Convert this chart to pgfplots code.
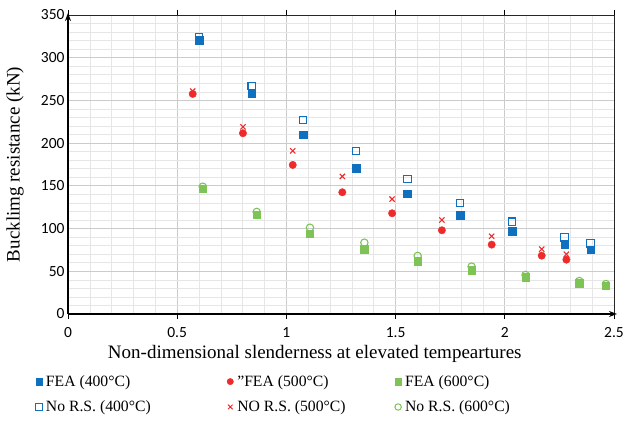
\documentclass[border=0pt]{standalone}
\usepackage{fontspec}
\setmainfont{Liberation Serif}
\newfontfamily\tickfont{Carlito}
\usepackage{pgfplots}
\pgfplotsset{compat=1.18}
\usetikzlibrary{arrows.meta}
\definecolor{cblue}{HTML}{1070C0}
\definecolor{cred}{HTML}{EE2A2A}
\definecolor{cgreen}{HTML}{7DC356}
\definecolor{gmaj}{HTML}{CBCBCB}
\definecolor{gmin}{HTML}{E6E6E6}
\begin{document}
\begin{tikzpicture}
\begin{axis}[
  name=ax,
  scale only axis,
  width=546pt, height=299pt,
  xmin=0, xmax=2.5, ymin=0, ymax=350,
  xtick={0,0.5,1,1.5,2,2.5},
  ytick={0,50,100,150,200,250,300,350},
  minor x tick num=4,
  minor y tick num=4,
  grid=both,
  major grid style={gmaj, line width=0.8pt},
  minor grid style={gmin, line width=0.6pt},
  axis line style={black!85, line width=0.9pt},
  xtick align=outside,
  major tick length=5pt,
  minor tick length=0pt,
  ytick style={draw=none},
  xtick style={black, line width=0.9pt},
  xticklabel pos=lower,
  /pgf/number format/assume math mode=true,
  ticklabel style={font=\fontsize{15.5}{17}\tickfont},
  xticklabel style={yshift=-6pt, inner ysep=2pt},
  xlabel={Non-dimensional slenderness at elevated tempeartures},
  ylabel={Bucklimg resistance (kN)},
  label style={font=\fontsize{19}{21}\selectfont},
  xlabel style={at={(axis description cs:0.452,-0.135)}, anchor=center, inner ysep=1pt},
  ylabel style={at={(axis description cs:-0.097,0.5)}, anchor=center},
  legend columns=3,
  legend cell align=left,
  legend style={draw=none, fill=none, inner sep=0pt,
    font=\fontsize{15.7}{17}\selectfont,
    at={(axis description cs:-0.060,-0.198)}, anchor=north west,
    row sep=9pt,
    /tikz/column 2/.style={column sep=74pt},
    /tikz/column 4/.style={column sep=47pt}},
  legend image code/.code={\path[draw=none,fill=none] (-3.5pt,-0.1pt) rectangle (5pt,0.1pt); \draw[#1] plot coordinates {(0pt,0pt)};},
]
\addlegendimage{only marks, mark=square*, mark size=3.2pt, cblue, mark options={fill=cblue}}
\addlegendentry{FEA (400°C)}
\addlegendimage{only marks, mark=*, mark size=3.2pt, cred, mark options={fill=cred}}
\addlegendentry{"FEA (500°C)}
\addlegendimage{only marks, mark=square*, mark size=3.2pt, cgreen, mark options={fill=cgreen}}
\addlegendentry{FEA (600°C)}
\addlegendimage{only marks, mark=square, mark size=3.2pt, cblue, mark options={line width=1pt}}
\addlegendentry{No R.S. (400°C)}
\addlegendimage{only marks, mark=x, mark size=3.2pt, cred, mark options={line width=1pt}}
\addlegendentry{NO R.S. (500°C)}
\addlegendimage{only marks, mark=o, mark size=3.2pt, cgreen, mark options={line width=1pt}}
\addlegendentry{No R.S. (600°C)}

% No R.S. (400C)
\addplot[forget plot, only marks, mark=square, mark size=3.7pt, cblue, mark options={line width=1.1pt, fill=white}] coordinates {
(0.600,324) (0.841,267) (1.077,227) (1.319,191) (1.554,158) (1.795,130) (2.033,108) (2.274,89.5) (2.393,82.5)};
% No R.S. (500C)
\addplot[forget plot, only marks, mark=x, mark size=3.7pt, cred, mark options={line width=1.1pt}] coordinates {
(0.571,261) (0.801,219) (1.029,191) (1.256,161) (1.484,134.5) (1.712,110) (1.940,91) (2.169,76) (2.282,70)};
% No R.S. (600C)
\addplot[forget plot, only marks, mark=o, mark size=3.7pt, cgreen, mark options={line width=1.1pt, fill=white}] coordinates {
(0.617,149) (0.864,119.5) (1.108,101) (1.357,83.5) (1.601,68) (1.848,55.5) (2.095,45.7) (2.341,38.6) (2.463,35)};
% FEA (400C)
\addplot[forget plot, only marks, mark=square*, mark size=3.7pt, cblue, mark options={fill=cblue}] coordinates {
(0.600,320.5) (0.841,258.5) (1.077,210) (1.319,170.6) (1.554,140.5) (1.795,115.6) (2.033,96.8) (2.274,81.6) (2.393,75)};
% FEA (500C)
\addplot[forget plot, only marks, mark=*, mark size=3.7pt, cred, mark options={fill=cred}] coordinates {
(0.571,257.6) (0.801,211.6) (1.029,174.5) (1.256,142.5) (1.484,117.9) (1.712,98) (1.940,81.2) (2.169,68.3) (2.282,63.6)};
% FEA (600C)
\addplot[forget plot, only marks, mark=square*, mark size=3.7pt, cgreen, mark options={fill=cgreen}] coordinates {
(0.617,146.4) (0.864,116) (1.108,94) (1.357,75.7) (1.601,62) (1.848,51.5) (2.095,43) (2.341,36) (2.463,32.8)};
\end{axis}
\draw[black, line width=1.6pt, -{Stealth[length=8pt,width=6pt]}] (ax.south west) -- ([yshift=2pt]ax.north west);
\draw[black, line width=1.6pt, -{Stealth[length=8pt,width=6pt]}] (ax.south west) -- ([xshift=3pt]ax.south east);
\pgfresetboundingbox
\path[use as bounding box] (-68pt,-108pt) rectangle (557pt,314pt);
\end{tikzpicture}
\end{document}
